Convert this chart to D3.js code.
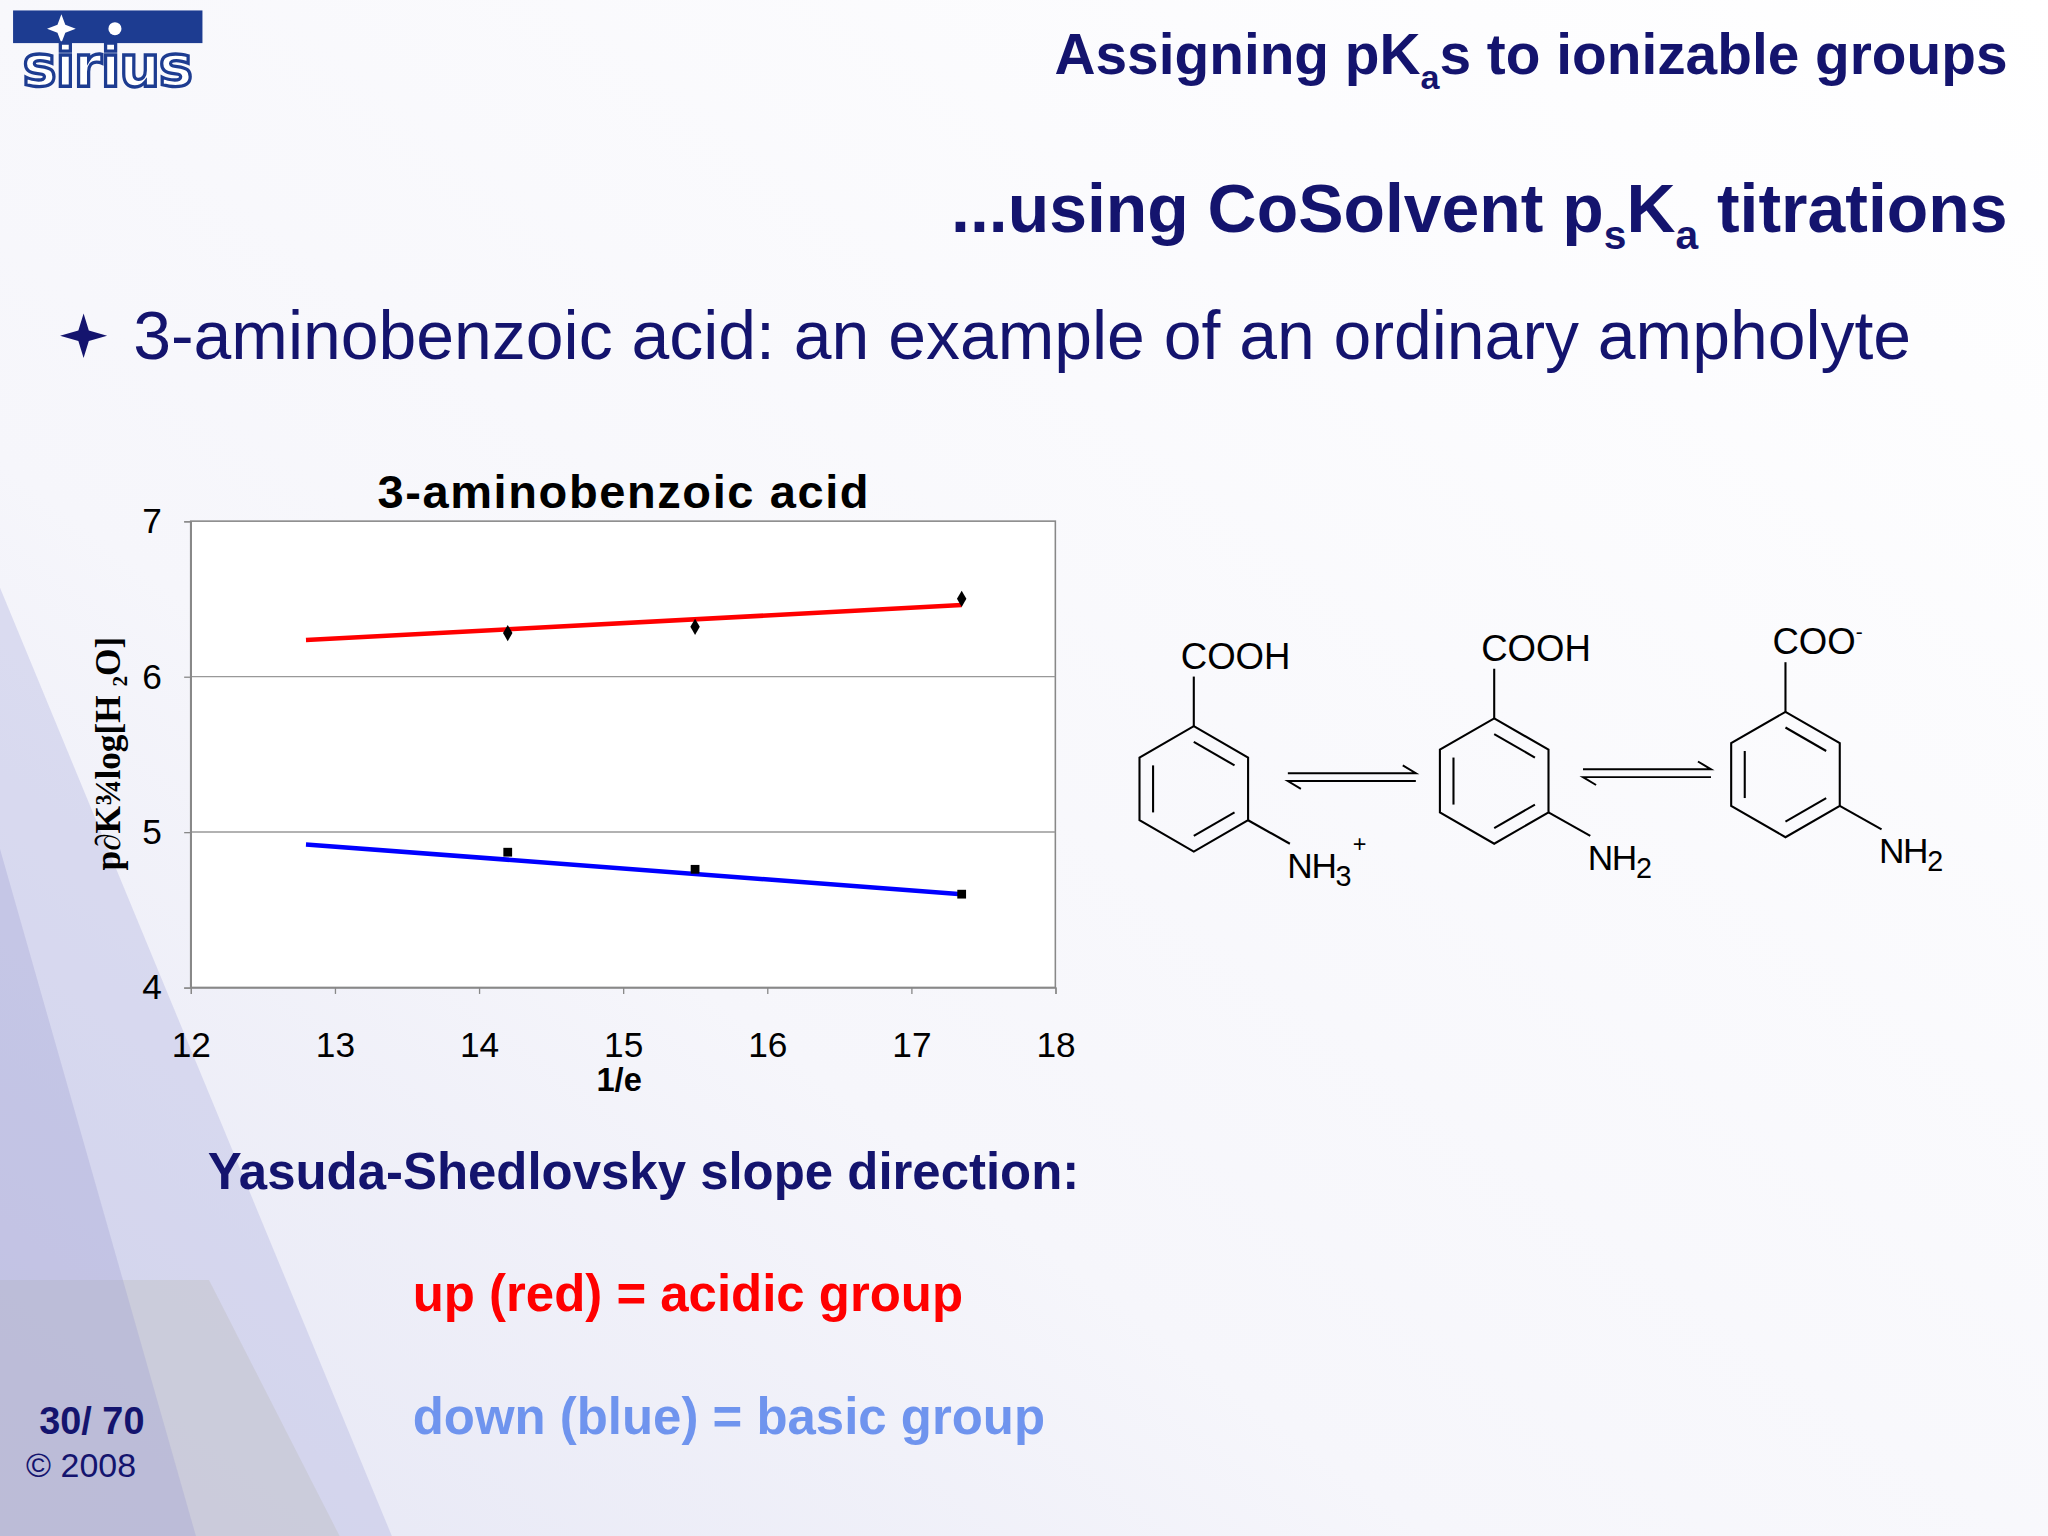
<!DOCTYPE html>
<html><head><meta charset="utf-8">
<script src="https://cdn.jsdelivr.net/npm/d3@7"></script>
<style>body{margin:0;background:#fff}svg{display:block}</style>
</head><body>
<div id="slide"></div>
<script>
var xTicks = [12, 13, 14, 15, 16, 17, 18];
var yTicks = [4, 5, 6, 7];
var acidX = [14.2, 15.5, 17.35];
var acidY = [6.28, 6.32, 6.5];
var baseX = [14.2, 15.5, 17.35];
var baseY = [4.87, 4.76, 4.6];
var acidFit = [[12.8, 6.235], [17.35, 6.46]];
var baseFit = [[12.8, 4.92], [17.35, 4.6]];

var svg = d3.select("#slide").append("svg")
  .attr("width", 2048).attr("height", 1536)
  .attr("viewBox", "0 0 1568 1176");

// background
var defs = svg.append("defs");
var g1 = defs.append("linearGradient").attr("id", "bg").attr("x1", 0).attr("y1", 1).attr("x2", 1).attr("y2", 0);
g1.append("stop").attr("offset", 0).attr("stop-color", "#e4e5f4");
g1.append("stop").attr("offset", 0.35).attr("stop-color", "#f6f6fb");
g1.append("stop").attr("offset", 1).attr("stop-color", "#ffffff");
svg.append("rect").attr("width", 1568).attr("height", 1176).attr("fill", "url(#bg)");
svg.append("path").attr("d", "M0,450 L300,1176 L0,1176 Z").attr("fill", "#b4b7e0").attr("opacity", 0.4);
svg.append("path").attr("d", "M0,980 L160,980 L260,1176 L0,1176 Z").attr("fill", "#c8c8d4").attr("opacity", 0.75);
svg.append("path").attr("d", "M0,650 L150,1176 L0,1176 Z").attr("fill", "#9a9dd2").attr("opacity", 0.3);

// logo
svg.append("rect").attr("x", 10).attr("y", 8).attr("width", 145).attr("height", 25).attr("fill", "#1d3c91");
svg.append("path").attr("d", "M47,11 L50,19 L58,22 L50,25 L47,33 L44,25 L36,22 L44,19 Z").attr("fill", "#fff");
svg.append("circle").attr("cx", 88).attr("cy", 22).attr("r", 5).attr("fill", "#fff");
svg.append("text").attr("x", 82).attr("y", 66).attr("text-anchor", "middle")
  .attr("font-family", "Arial Black, DejaVu Sans").attr("font-weight", "bold").attr("font-size", 44)
  .attr("fill", "#fff").attr("stroke", "#1d3c91").attr("stroke-width", 2.5).attr("letter-spacing", -1).text("sirius");

var navy = "#14146e";
function titleText(y, size, parts) {
  var t = svg.append("text").attr("x", 1537).attr("y", y).attr("text-anchor", "end")
    .attr("font-family", "Liberation Sans, Arial").attr("font-weight", "bold").attr("font-size", size).attr("fill", navy);
  parts.forEach(function(p) {
    var s = t.append("tspan").text(p[0]);
    if (p[1]) s.attr("font-size", size * 0.6).attr("dy", size * 0.25);
    else if (p[2]) s.attr("dy", -size * 0.25);
  });
}
titleText(57, 43.5, [["Assigning pK"], ["a", 1], ["s to ionizable groups", 0, 1]]);
titleText(178, 52, [["...using CoSolvent p"], ["s", 1], ["K", 0, 1], ["a", 1], [" titrations", 0, 1]]);

svg.append("path").attr("d", "M64,240 L68,253 L82,257 L68,261 L64,274 L60,261 L46,257 L60,253 Z").attr("fill", navy);
svg.append("text").attr("x", 102).attr("y", 275).attr("font-family", "Liberation Sans, Arial")
  .attr("font-size", 52).attr("fill", navy).text("3-aminobenzoic acid: an example of an ordinary ampholyte");

// chart
var x = d3.scaleLinear().domain([12, 18]).range([146, 808]);
var y = d3.scaleLinear().domain([4, 7]).range([756, 399]);
svg.append("rect").attr("x", 146).attr("y", 399).attr("width", 662).attr("height", 357)
  .attr("fill", "#fff").attr("stroke", "#888").attr("stroke-width", 1.2);
svg.selectAll("line.grid").data([5, 6]).enter().append("line")
  .attr("x1", 146).attr("x2", 808).attr("y1", y).attr("y2", y).attr("stroke", "#999");
svg.append("g").attr("transform", "translate(0,756)")
  .call(d3.axisBottom(x).tickValues(xTicks).tickSize(5).tickPadding(29).tickFormat(d3.format("d")))
  .call(function(g) { g.select(".domain").attr("stroke", "#888"); g.selectAll("line").attr("stroke", "#888");
    g.selectAll("text").attr("font-family", "Liberation Sans, Arial").attr("font-size", 27).attr("fill", "#000"); });
svg.append("g").attr("transform", "translate(146,0)")
  .call(d3.axisLeft(y).tickValues(yTicks).tickSize(5).tickPadding(17).tickFormat(d3.format("d")))
  .call(function(g) { g.select(".domain").attr("stroke", "#888"); g.selectAll("line").attr("stroke", "#888");
    g.selectAll("text").attr("font-family", "Liberation Sans, Arial").attr("font-size", 27).attr("fill", "#000"); });

var line = d3.line().x(function(d) { return x(d[0]); }).y(function(d) { return y(d[1]); });
svg.append("path").attr("d", line(acidFit)).attr("stroke", "#ff0000").attr("stroke-width", 3.5).attr("fill", "none");
svg.append("path").attr("d", line(baseFit)).attr("stroke", "#0000ff").attr("stroke-width", 3.5).attr("fill", "none");
svg.selectAll("path.acid").data(acidX).enter().append("path")
  .attr("d", d3.symbol().type(d3.symbolDiamond).size(45))
  .attr("transform", function(d, i) { return "translate(" + x(d) + "," + y(acidY[i]) + ")"; });
svg.selectAll("path.base").data(baseX).enter().append("path")
  .attr("d", d3.symbol().type(d3.symbolSquare).size(45))
  .attr("transform", function(d, i) { return "translate(" + x(d) + "," + y(baseY[i]) + ")"; });

svg.append("text").attr("x", 477).attr("y", 389).attr("text-anchor", "middle")
  .attr("font-family", "Liberation Sans, Arial").attr("font-weight", "bold").attr("font-size", 36)
  .attr("textLength", 376).text("3-aminobenzoic acid");
svg.append("text").attr("x", 474).attr("y", 835).attr("text-anchor", "middle")
  .attr("font-family", "Liberation Sans, Arial").attr("font-weight", "bold").attr("font-size", 25).text("1/e");
svg.append("text").attr("transform", "translate(92,577) rotate(-90)").attr("text-anchor", "middle")
  .attr("font-family", "Liberation Serif, Times New Roman").attr("font-weight", "bold").attr("font-size", 27)
  .text("p\u2202K¾log[H \u2082O]");

// structures
function ring(cx, cy, top, sub, subSup, topSup) {
  var r = 48;
  var hex = d3.range(6).map(function(i) { var a = i * Math.PI / 3 - Math.PI / 2;
    return [cx + r * Math.cos(a), cy + r * Math.sin(a)]; });
  var gg = svg.append("g").attr("stroke", "#000").attr("stroke-width", 1.6).attr("fill", "none");
  gg.append("path").attr("d", "M" + hex.join("L") + "Z");
  var topV = [cx, cy - r], lrV = [cx + r * Math.cos(Math.PI / 6), cy + r * 0.5];
  gg.append("path").attr("d", "M" + topV + "L" + [cx, cy - r - 38]);
  gg.append("path").attr("d", "M" + lrV + "L" + [lrV[0] + 32, lrV[1] + 18]);
  var ri = 36;
  [[-90, -30], [30, 90], [150, 210]].forEach(function(p) {
    var a1 = p[0] * Math.PI / 180, a2 = p[1] * Math.PI / 180;
    gg.append("line").attr("x1", cx + ri * Math.cos(a1)).attr("y1", cy + ri * Math.sin(a1))
      .attr("x2", cx + ri * Math.cos(a2)).attr("y2", cy + ri * Math.sin(a2));
  });
  var tt = svg.append("text").attr("x", cx - 10).attr("y", cy - r - 44).attr("font-family", "Liberation Sans, Arial").attr("font-size", 28).text(top);
  if (topSup) tt.append("tspan").attr("dy", -12).attr("font-size", 16).text(topSup);
  var st = svg.append("text").attr("x", lrV[0] + 30).attr("y", lrV[1] + 44).attr("font-family", "Liberation Sans, Arial").attr("font-size", 27).attr("letter-spacing", -1).text("NH");
  st.append("tspan").attr("dy", 6).attr("font-size", 22).text(sub);
  if (subSup) st.append("tspan").attr("dy", -26).attr("dx", 2).attr("font-size", 18).text(subSup);
}
ring(914, 604, "COOH", "3", "+");
ring(1144, 598, "COOH", "2");
ring(1367, 593, "COO", "2", null, "-");
function arrows(x1, x2, yy) {
  var gg = svg.append("g").attr("stroke", "#000").attr("stroke-width", 1.5).attr("fill", "none");
  gg.append("path").attr("d", "M" + x1 + "," + (yy - 3) + "L" + x2 + "," + (yy - 3) + "l-10,-6");
  gg.append("path").attr("d", "M" + x2 + "," + (yy + 3) + "L" + x1 + "," + (yy + 3) + "l10,6");
}
arrows(986, 1084, 595);
arrows(1212, 1310, 592);

function txt(xx, yy, s, col, size, w) {
  svg.append("text").attr("x", xx).attr("y", yy).attr("font-family", "Liberation Sans, Arial")
    .attr("font-weight", w || "bold").attr("font-size", size).attr("fill", col).text(s);
}
txt(159, 910, "Yasuda-Shedlovsky slope direction:", navy, 39);
txt(316, 1004, "up (red) = acidic group", "#ff0000", 39);
txt(316, 1098, "down (blue) = basic group", "#6f94ee", 39);
txt(30, 1098, "30/ 70", navy, 29);
txt(20, 1131, "© 2008", navy, 26, "normal");
</script>
</body></html>
